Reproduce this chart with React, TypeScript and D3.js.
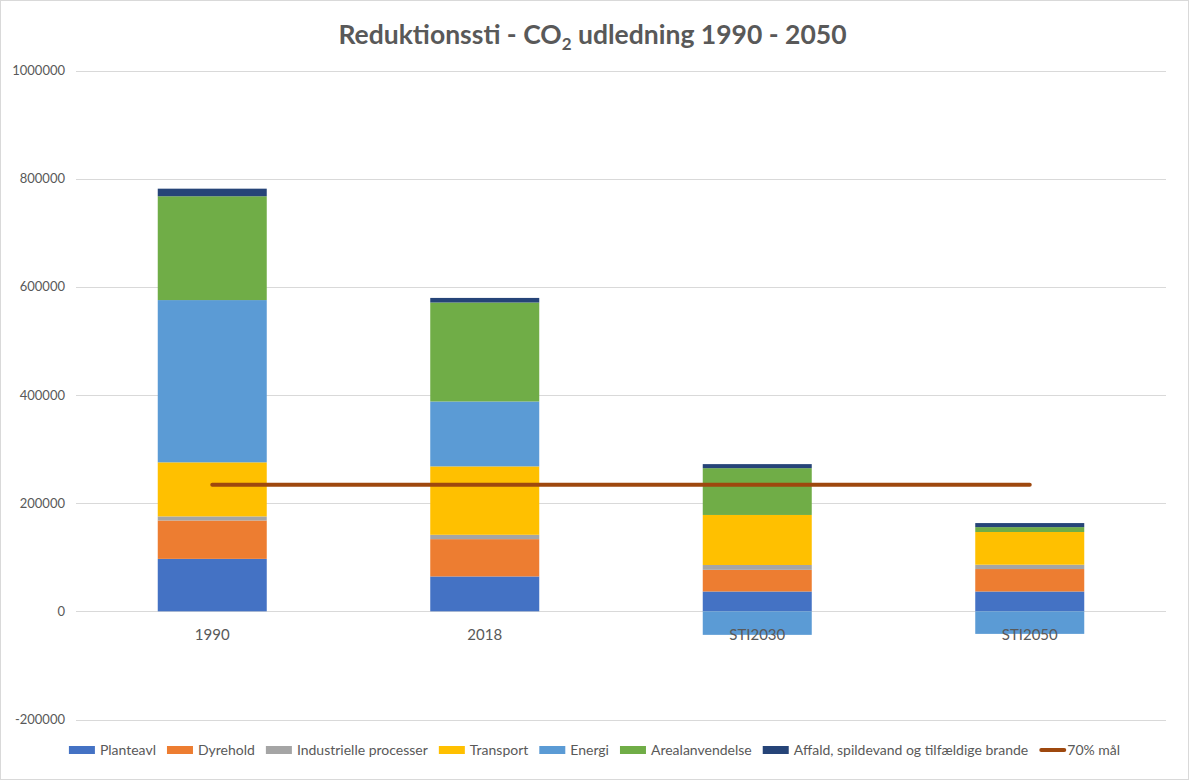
import React, { useEffect, useRef } from "react";
import * as d3 from "d3";

const categories = ["1990", "2018", "STI2030", "STI2050"];

const seriesNames = [
  "Planteavl",
  "Dyrehold",
  "Industrielle processer",
  "Transport",
  "Energi",
  "Arealanvendelse",
  "Affald, spildevand og tilfældige brande",
];

const planteavl = [97000, 64500, 36700, 36700];
const dyrehold = [71000, 69000, 40000, 41500];
const industrielle = [7500, 8000, 9000, 8000];
const transport = [100000, 126500, 92500, 60500];
const energi = [300000, 120000, -43500, -41700];
const arealanvendelse = [192000, 183000, 86500, 9000];
const affald = [14000, 8500, 7500, 7500];

const target70 = [234000, 234000, 234000, 234000];
const targetName = "70% mål";

const yTicks = [-200000, 0, 200000, 400000, 600000, 800000, 1000000];

const colors = ["#4472C4", "#ED7D31", "#A5A5A5", "#FFC000", "#5B9BD5", "#70AD47", "#264478"];
const lineColor = "#9E480E";

export default function App() {
  const ref = useRef<HTMLDivElement>(null);

  useEffect(() => {
    if (!ref.current) return;
    document.body.style.margin = "0";
    const container = d3.select(ref.current);
    container.selectAll("*").remove();

    const W = 1189;
    const H = 780;
    const font = "Lato, 'Open Sans', sans-serif";
    const textColor = "#595959";

    const svg = container
      .append("svg")
      .attr("width", W)
      .attr("height", H)
      .style("display", "block")
      .style("font-family", font);

    svg
      .append("rect")
      .attr("x", 0.5)
      .attr("y", 0.5)
      .attr("width", W - 1)
      .attr("height", H - 1)
      .attr("fill", "#fff")
      .attr("stroke", "#d9d9d9");

    const values = [planteavl, dyrehold, industrielle, transport, energi, arealanvendelse, affald];
    const rows = categories.map((c, i) => {
      const r: any = { cat: c };
      seriesNames.forEach((s, j) => (r[s] = values[j][i]));
      return r;
    });

    const x = d3
      .scaleBand()
      .domain(categories)
      .range([76, 1166])
      .paddingInner(0.6)
      .paddingOuter(0.3);

    const y = d3.scaleLinear().domain([-200000, 1000000]).range([719.5, 70.5]);

    // gridlines
    svg
      .append("g")
      .selectAll("line")
      .data(yTicks)
      .enter()
      .append("line")
      .attr("x1", 76)
      .attr("x2", 1166)
      .attr("y1", (d) => Math.round(y(d)) + 0.5)
      .attr("y2", (d) => Math.round(y(d)) + 0.5)
      .attr("stroke", "#d9d9d9")
      .attr("stroke-width", 1);

    // y labels
    svg
      .append("g")
      .selectAll("text")
      .data(yTicks)
      .enter()
      .append("text")
      .attr("x", 65)
      .attr("y", (d) => y(d))
      .attr("dy", "0.35em")
      .attr("text-anchor", "end")
      .style("font-size", "13px")
      .style("fill", textColor)
      .text((d) => String(d));

    const stack = d3
      .stack<any>()
      .keys(seriesNames)
      .offset(d3.stackOffsetDiverging);
    const stacked = stack(rows);

    svg
      .append("g")
      .selectAll("g")
      .data(stacked)
      .enter()
      .append("g")
      .attr("fill", (_d, i) => colors[i])
      .selectAll("rect")
      .data((d) => d)
      .enter()
      .append("rect")
      .attr("x", (d: any) => x(d.data.cat) as number)
      .attr("width", x.bandwidth())
      .attr("y", (d) => y(Math.max(d[0], d[1])))
      .attr("height", (d) => Math.abs(y(d[0]) - y(d[1])));

    // category labels
    svg
      .append("g")
      .selectAll("text")
      .data(categories)
      .enter()
      .append("text")
      .attr("x", (d) => (x(d) as number) + x.bandwidth() / 2)
      .attr("y", 640)
      .attr("text-anchor", "middle")
      .style("font-size", "15px")
      .style("fill", textColor)
      .text((d) => d);

    // 70% line
    const line = d3
      .line<number>()
      .x((_d, i) => (x(categories[i]) as number) + x.bandwidth() / 2)
      .y((d) => y(d));
    svg
      .append("path")
      .datum(target70)
      .attr("fill", "none")
      .attr("stroke", lineColor)
      .attr("stroke-width", 4)
      .attr("stroke-linecap", "round")
      .attr("d", line);

    // title
    const title = svg
      .append("text")
      .attr("x", W / 2 - 2)
      .attr("y", 44)
      .attr("text-anchor", "middle")
      .style("font-size", "26.5px")
      .style("font-weight", "bold")
      .style("fill", textColor);
    title.append("tspan").text("Reduktionssti - CO");
    title.append("tspan").attr("dy", 6).style("font-size", "17px").text("2");
    title.append("tspan").attr("dy", -6).text(" udledning 1990 - 2050");

    // legend
    const legend = svg.append("g");
    const items = [...seriesNames.map((s, i) => ({ name: s, color: colors[i], line: false })), { name: targetName, color: lineColor, line: true }];
    let cx = 0;
    const ly = 750;
    items.forEach((it) => {
      const g = legend.append("g").attr("transform", `translate(${cx},0)`);
      if (it.line) {
        g.append("line")
          .attr("x1", 2)
          .attr("x2", 25)
          .attr("y1", ly)
          .attr("y2", ly)
          .attr("stroke", it.color)
          .attr("stroke-width", 4)
          .attr("stroke-linecap", "round");
      } else {
        g.append("rect").attr("x", 0).attr("y", ly - 4).attr("width", 26).attr("height", 8).attr("fill", it.color);
      }
      const t = g
        .append("text")
        .attr("x", it.line ? 28 : 31)
        .attr("y", ly)
        .attr("dy", "0.35em")
        .style("font-size", "14px")
        .style("fill", textColor)
        .text(it.name);
      const w = (t.node() as SVGTextElement).getComputedTextLength();
      cx += (it.line ? 28 : 31) + w + 11;
    });
    const totalW = cx - 11;
    legend.attr("transform", `translate(${(W - totalW) / 2},0)`);
  }, []);

  return <div ref={ref}></div>;
}
